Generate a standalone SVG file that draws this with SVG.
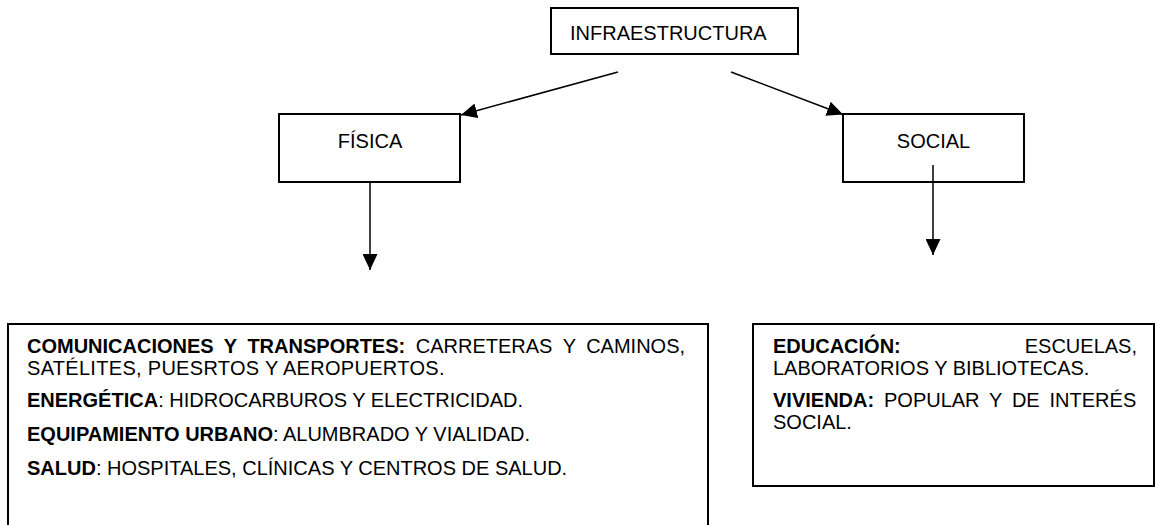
<svg xmlns="http://www.w3.org/2000/svg" width="1157" height="525" viewBox="0 0 1157 525">
<style>
  .box { fill: #ffffff; stroke: #000000; stroke-width: 2; }
  .edge { fill: none; stroke: #000000; stroke-width: 1.5; }
  text { font-family: "Liberation Sans", Arial, sans-serif; font-size: 20px; fill: #000000; }
  .b { font-weight: bold; }
</style>
<defs>
  <marker id="arrow" viewBox="0 0 16 15" refX="16" refY="7.5" markerWidth="16" markerHeight="15" markerUnits="userSpaceOnUse" orient="auto">
    <path d="M0,0 L16,7.5 L0,15 z" fill="#000000"/>
  </marker>
</defs>
<rect width="1157" height="525" fill="#ffffff"/>

<g id="node-infraestructura">
  <rect class="box" x="551" y="8" width="247" height="46"/>
  <text x="570" y="40">INFRAESTRUCTURA</text>
</g>

<g id="node-fisica">
  <rect class="box" x="279" y="114" width="181" height="68"/>
  <text x="370" y="148" text-anchor="middle">FÍSICA</text>
</g>

<g id="node-social">
  <rect class="box" x="843" y="114" width="181" height="68"/>
  <text x="933.5" y="148" text-anchor="middle">SOCIAL</text>
</g>

<g id="node-fisica-detail">
  <rect class="box" x="8" y="324" width="700" height="230"/>
  <text x="27" y="353" word-spacing="5"><tspan class="b">COMUNICACIONES Y TRANSPORTES:</tspan> CARRETERAS Y CAMINOS,</text>
  <text x="27" y="375" letter-spacing="0.3">SATÉLITES, PUESRTOS Y AEROPUERTOS.</text>
  <text x="27" y="407"><tspan class="b">ENERGÉTICA</tspan>: HIDROCARBUROS Y ELECTRICIDAD.</text>
  <text x="27" y="441"><tspan class="b">EQUIPAMIENTO URBANO</tspan>: ALUMBRADO Y VIALIDAD.</text>
  <text x="27" y="475"><tspan class="b">SALUD</tspan>: HOSPITALES, CLÍNICAS Y CENTROS DE SALUD.</text>
</g>

<g id="node-social-detail">
  <rect class="box" x="753" y="324" width="401" height="162"/>
  <text x="773" y="353" class="b">EDUCACIÓN:</text>
  <text x="1137" y="353" text-anchor="end">ESCUELAS,</text>
  <text x="773" y="375">LABORATORIOS Y BIBLIOTECAS.</text>
  <text x="773" y="407" word-spacing="4.3"><tspan class="b">VIVIENDA:</tspan> POPULAR Y DE INTERÉS</text>
  <text x="773" y="429">SOCIAL.</text>
</g>

<g id="connectors">
  <path class="edge" d="M618,72 L461,115" marker-end="url(#arrow)"/>
  <path class="edge" d="M731,72 L843,114.5" marker-end="url(#arrow)"/>
  <path class="edge" d="M370,182 L370,270" marker-end="url(#arrow)"/>
  <path class="edge" d="M933,165 L933,255" marker-end="url(#arrow)"/>
</g>
</svg>
